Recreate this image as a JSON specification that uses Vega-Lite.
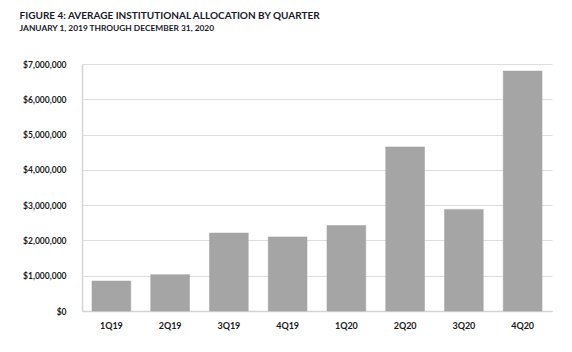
{
  "$schema": "https://vega.github.io/schema/vega-lite/v6.json",
  "width": 572,
  "height": 352,
  "autosize": {"type": "fit", "contains": "padding"},
  "padding": {"left": 19, "top": 10, "right": 20, "bottom": 22},
  "background": "white",
  "title": {
    "text": "FIGURE 4: AVERAGE INSTITUTIONAL ALLOCATION BY QUARTER",
    "subtitle": "JANUARY 1, 2019 THROUGH DECEMBER 31, 2020",
    "anchor": "start",
    "frame": "bounds",
    "dx": -3,
    "font": "Lato, sans-serif",
    "fontSize": 10,
    "fontWeight": "bold",
    "color": "#1a1a2a",
    "subtitleFont": "Lato, sans-serif",
    "subtitleFontSize": 8.4,
    "subtitleFontWeight": "bold",
    "subtitleColor": "#1a1a2a",
    "subtitlePadding": 3,
    "offset": 28
  },
  "data": {
    "values": [
      {"quarter": "1Q19", "allocation": 850000},
      {"quarter": "2Q19", "allocation": 1030000},
      {"quarter": "3Q19", "allocation": 2210000},
      {"quarter": "4Q19", "allocation": 2100000},
      {"quarter": "1Q20", "allocation": 2420000},
      {"quarter": "2Q20", "allocation": 4650000},
      {"quarter": "3Q20", "allocation": 2880000},
      {"quarter": "4Q20", "allocation": 6800000}
    ]
  },
  "mark": {"type": "bar", "color": "#a5a5a5", "stroke": "#a0a0a0", "strokeWidth": 0.5},
  "encoding": {
    "x": {
      "field": "quarter",
      "type": "nominal",
      "sort": null,
      "scale": {"paddingInner": 0.34, "paddingOuter": 0.17},
      "axis": {
        "title": null,
        "labelAngle": 0,
        "labelFont": "Lato, sans-serif",
        "labelFontSize": 9,
        "labelFontWeight": "bold",
        "labelColor": "#1a1a1a",
        "labelPadding": 10,
        "ticks": false,
        "domainColor": "#d4d4d4",
        "domainWidth": 1.5
      }
    },
    "y": {
      "field": "allocation",
      "type": "quantitative",
      "scale": {"domain": [0, 7000000], "nice": false},
      "axis": {
        "title": null,
        "values": [0, 1000000, 2000000, 3000000, 4000000, 5000000, 6000000, 7000000],
        "format": "$,.0f",
        "labelFont": "Lato, sans-serif",
        "labelFontSize": 8.5,
        "labelFontWeight": "bold",
        "labelColor": "#1a1a1a",
        "labelPadding": 16,
        "ticks": false,
        "domainColor": "#d4d4d4",
        "domainWidth": 1.5,
        "grid": true,
        "gridColor": "#dedede",
        "gridWidth": 1
      }
    }
  },
  "config": {"view": {"stroke": null}}
}
